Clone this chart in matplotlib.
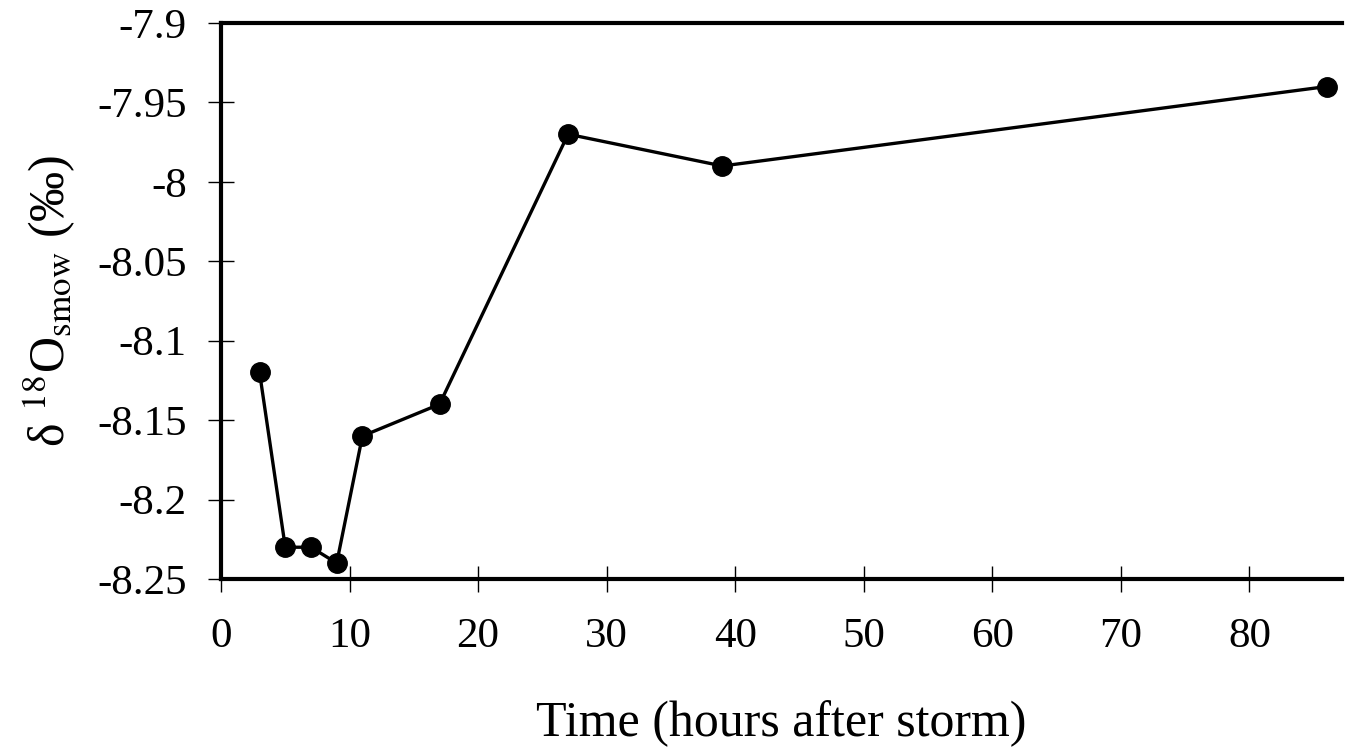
import matplotlib
matplotlib.use("Agg")
import matplotlib.pyplot as plt

plt.rcParams['font.family'] = ['Liberation Serif', 'DejaVu Serif']
plt.rcParams['mathtext.fontset'] = 'stix'

hours = [3, 5, 7, 9, 11, 17, 27, 39, 86]
d18o = [-8.12, -8.23, -8.23, -8.24, -8.16, -8.14, -7.97, -7.99, -7.94]

xticks = [0, 10, 20, 30, 40, 50, 60, 70, 80]
yticks = [-7.9, -7.95, -8, -8.05, -8.1, -8.15, -8.2, -8.25]
ytick_labels = ['-7.9', '-7.95', '-8', '-8.05', '-8.1', '-8.15', '-8.2', '-8.25']

fig = plt.figure(figsize=(13.45, 7.51), dpi=100)
ax = fig.add_axes([221/1345, 1 - 579/751, (1342 - 221)/1345, (579 - 23)/751])

ax.plot(hours, d18o, color='black', lw=2.4, marker='o', markersize=14,
        markerfacecolor='black', markeredgecolor='black', clip_on=False)

ax.set_xlim(0, 87.2)
ax.set_ylim(-8.25, -7.9)
ax.set_xticks(xticks)
ax.set_yticks(yticks)
ax.set_yticklabels(ytick_labels)

for s in ['left', 'bottom', 'top']:
    ax.spines[s].set_linewidth(3)
ax.spines['right'].set_visible(False)

ax.tick_params(axis='both', direction='inout', length=19, width=1, labelsize=31)
ax.tick_params(axis='y', pad=15)
ax.tick_params(axis='x', pad=18)

ax.set_xlabel('Time (hours after storm)', fontsize=36, labelpad=32)
ax.set_ylabel('δ $^{18}$O$_{\\mathrm{smow}}$ (‰)', fontsize=36, labelpad=14)

fig.savefig('out.png', dpi=100)
